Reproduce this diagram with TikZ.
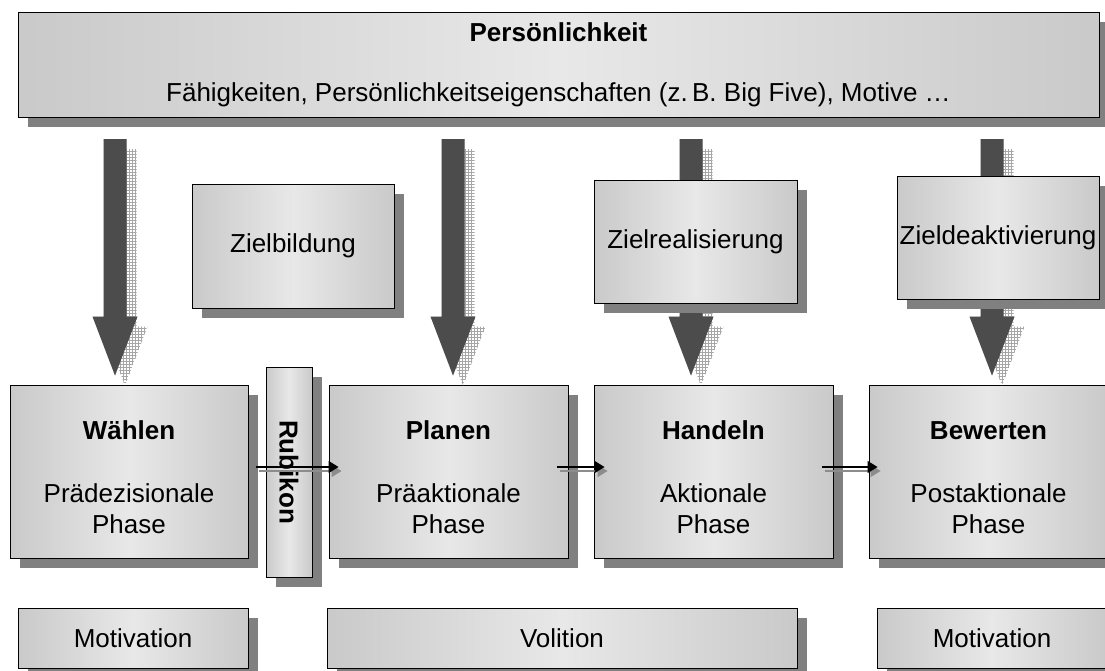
\documentclass[tikz,border=0pt]{standalone}
\usepackage{fontspec}
\setmainfont{Liberation Sans}
\usepackage{tikz}
\usetikzlibrary{arrows.meta,calc,patterns,shadows,positioning}

\newcommand{\bigarrow}[3][]{%
\path[#1] ($(#2)+(-11.5,0)$) -- ($(#3)+(-11.5,-59)$) -- ($(#3)+(-22.5,-59)$) -- (#3)
  -- ($(#3)+(22.5,-59)$) -- ($(#3)+(11.5,-59)$) -- ($(#2)+(11.5,0)$) -- cycle;}

\begin{document}
\begin{tikzpicture}[x=1pt,y=-1pt,
  every node/.style={font=\fontsize{26}{31}\selectfont},
  box/.style={draw=black,line width=0.9pt,inner sep=0pt,align=center,
    left color=black!21,right color=black!21,middle color=black!9,
    drop shadow={shadow xshift=10pt,shadow yshift=-10pt,opacity=1,fill=black!50}},
  arrowbody/.style={fill=black!70},
  arrowshade/.style={preaction={fill=black!10},pattern=grid,pattern color=black!35,
    transform canvas={shift={(10pt,-10pt)}}},
  stepline/.style={-{Triangle[length=10pt,width=12pt]},line width=1.2pt,black},
  stepshade/.style={stepline,black!45,transform canvas={shift={(3pt,-4pt)}}}]
\useasboundingbox (0,0) rectangle (1105,670);

\node[box,minimum width=1081pt,minimum height=105pt] (top) at (558.5,64.5)
  {\textbf{Persönlichkeit}\\[29pt]Fähigkeiten, Persönlichkeitseigenschaften (z.\,B. Big Five), Motive \dots};

\node[box,minimum width=238pt,minimum height=173pt] (waehlen) at (129,471.5)
  {\rule{0pt}{30pt}\textbf{Wählen}\\[32pt]Prädezisionale\\Phase};
\node[box,minimum width=46pt,minimum height=210pt] (rubikon) at (289,472) {};
\node[rotate=-90,font=\fontsize{26}{31}\selectfont\bfseries] at (rubikon) {Rubikon};
\node[box,minimum width=239pt,minimum height=173pt] (planen) at (448.5,471.5)
  {\rule{0pt}{30pt}\textbf{Planen}\\[32pt]Präaktionale\\Phase};
\node[box,minimum width=239pt,minimum height=173pt] (handeln) at (713.5,471.5)
  {\rule{0pt}{30pt}\textbf{Handeln}\\[32pt]Aktionale\\Phase};
\node[box,minimum width=239pt,minimum height=173pt] (bewerten) at (988.5,471.5)
  {\rule{0pt}{30pt}\textbf{Bewerten}\\[32pt]Postaktionale\\Phase};

\coordinate (s1) at (115,139);
\coordinate (s2) at (453,139);
\coordinate (s3) at (691,139);
\coordinate (s4) at (992,139);
\coordinate (e1) at ($(s1 |- waehlen.north)+(0,-9)$);
\coordinate (e2) at ($(s2 |- planen.north)+(0,-9)$);
\coordinate (e3) at ($(s3 |- handeln.north)+(0,-9)$);
\coordinate (e4) at ($(s4 |- bewerten.north)+(0,-9)$);
\bigarrow[arrowshade]{s1}{e1}
\bigarrow[arrowbody]{s1}{e1}
\bigarrow[arrowshade]{s2}{e2}
\bigarrow[arrowbody]{s2}{e2}
\bigarrow[arrowshade]{s3}{e3}
\bigarrow[arrowbody]{s3}{e3}
\bigarrow[arrowshade]{s4}{e4}
\bigarrow[arrowbody]{s4}{e4}

\node[box,minimum width=202pt,minimum height=124pt] (bildung) at (293,246) {Zielbildung};
\node[box,minimum width=203pt,minimum height=123pt] (realis) at (695.5,241.5) {Zielrealisierung};
\node[box,minimum width=202pt,minimum height=123pt] (deakt) at (998,237.5) {Zieldeaktivierung};

\draw[stepshade] ($(waehlen.east)+(8,-4.5)$) -- ($(planen.west)+(10,-4.5)$);
\draw[stepline] ($(waehlen.east)+(8,-4.5)$) -- ($(planen.west)+(10,-4.5)$);
\draw[stepshade] ($(planen.east)+(-11,-4.5)$) -- ($(handeln.west)+(11,-4.5)$);
\draw[stepline] ($(planen.east)+(-11,-4.5)$) -- ($(handeln.west)+(11,-4.5)$);
\draw[stepshade] ($(handeln.east)+(-11,-4.5)$) -- ($(bewerten.west)+(9,-4.5)$);
\draw[stepline] ($(handeln.east)+(-11,-4.5)$) -- ($(bewerten.west)+(9,-4.5)$);

\node[box,minimum width=230pt,minimum height=60pt] (mot1) at (133,638) {Motivation};
\node[box,minimum width=470pt,minimum height=60pt] (vol) at (562,638) {Volition};
\node[box,minimum width=230pt,minimum height=60pt] (mot2) at (992,638) {Motivation};
\end{tikzpicture}
\end{document}
